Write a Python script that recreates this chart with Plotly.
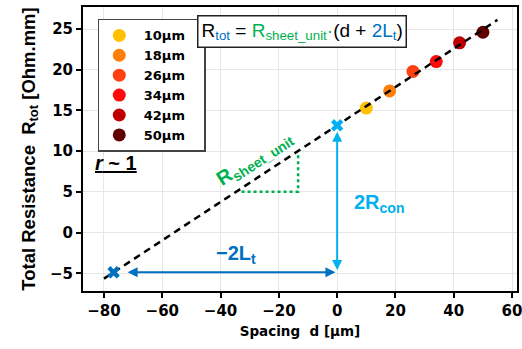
import plotly.graph_objects as go

# ---- data ----
spacing = [10, 18, 26, 34, 42, 50]
r_tot = [15.3, 17.4, 19.8, 21.0, 23.3, 24.6]
spacing_labels = ["10μm", "18μm", "26μm", "34μm", "42μm", "50μm"]
point_colors = ["#FFC000", "#FF7F0A", "#FF4010", "#FF0A0A", "#C00000", "#600000"]

two_r_con = 13.18          # intercept at d = 0
neg_two_lt = -76.7         # extrapolated position marked on the left
y_at_neg_two_lt = -4.86
fit_d = [-80, 55]

x_ticks = [-80, -60, -40, -20, 0, 20, 40, 60]
y_ticks = [-5, 0, 5, 10, 15, 20, 25]

slope = (two_r_con - y_at_neg_two_lt) / (0 - neg_two_lt)
fit_y = [two_r_con + slope * d for d in fit_d]

# slope triangle corners
tri_d = [-32.8, -13.4, -13.4]
tri_y = [5.03, 5.03, 9.75]

fig = go.Figure()

for d, r, lab, c in zip(spacing, r_tot, spacing_labels, point_colors):
    fig.add_trace(go.Scatter(x=[d], y=[r], mode="markers", name="\u00a0" + lab + "\u00a0\u00a0\u00a0",
                             marker=dict(size=13, color=c, line=dict(width=0))))

fig.add_trace(go.Scatter(x=tri_d, y=tri_y, mode="lines", showlegend=False,
                         line=dict(color="#00B050", width=2.5, dash="dot")))

fig.add_trace(go.Scatter(x=fit_d, y=fit_y, mode="lines", showlegend=False,
                         line=dict(color="black", width=2.5, dash="7px,5px")))

fig.add_trace(go.Scatter(x=[0], y=[two_r_con], mode="markers", showlegend=False,
                         marker=dict(symbol="x", size=11, color="#00B0F0", line=dict(width=0))))
fig.add_trace(go.Scatter(x=[neg_two_lt], y=[y_at_neg_two_lt], mode="markers", showlegend=False,
                         marker=dict(symbol="x", size=11, color="#0070C0", line=dict(width=0))))

# arrows
fig.add_annotation(x=0, y=two_r_con - 0.8, ax=0, ay=y_at_neg_two_lt + 0.1, xref="x", yref="y",
                   axref="x", ayref="y", showarrow=True, arrowhead=2, startarrowhead=2,
                   arrowside="end+start", arrowsize=1, arrowwidth=2, arrowcolor="#00B0F0", text="")
fig.add_annotation(x=-0.6, y=y_at_neg_two_lt, ax=neg_two_lt + 4.3, ay=y_at_neg_two_lt, xref="x", yref="y",
                   axref="x", ayref="y", showarrow=True, arrowhead=2, startarrowhead=2,
                   arrowside="end+start", arrowsize=1, arrowwidth=2, arrowcolor="#0070C0", text="")

arial = "Liberation Sans, Arial"
fig.add_annotation(x=-34.8, y=-2.7, xref="x", yref="y", showarrow=False,
                   text="<b>−2L<sub>t</sub></b>", font=dict(family=arial, size=20, color="#0070C0"))
fig.add_annotation(x=14.4, y=3.6, xref="x", yref="y", showarrow=False,
                   text="<b>2R<sub>con</sub></b>", font=dict(family=arial, size=20, color="#00B0F0"))
fig.add_annotation(x=-28.3, y=9.15, xref="x", yref="y", showarrow=False, textangle=-33,
                   text="<b>R<sub>sheet_unit</sub></b>", font=dict(family=arial, size=20, color="#00B050"))
fig.add_annotation(x=-76, y=8.55, xref="x", yref="y", showarrow=False,
                   text="<b><i>r</i> ~ 1</b>", font=dict(family=arial, size=20, color="black", lineposition="under"))
fig.add_annotation(x=-11.9, y=24.7, xref="x", yref="y", showarrow=False,
                   text="R<sub><span style='color:#0070C0'>tot</span></sub> = "
                        "<span style='color:#00B050'>R<sub>sheet_unit</sub>·</span>(d + "
                        "<span style='color:#0070C0'>2L<sub>t</sub></span>)",
                   font=dict(family=arial, size=19, color="black"),
                   bordercolor="#222", borderwidth=1.5, borderpad=3, bgcolor="white")

tickfont = dict(family="DejaVu Sans", size=15, color="black", weight="bold")
axis_common = dict(showline=True, mirror=True, linecolor="black", linewidth=2,
                   ticks="outside", ticklen=5, tickwidth=2, tickcolor="black",
                   showgrid=True, gridcolor="#E6E6E6", gridwidth=1, zeroline=False,
                   tickfont=tickfont, automargin=False, ticklabeloverflow="allow")

fig.update_layout(
    width=522, height=349,
    margin=dict(l=83, r=5, t=7, b=58),
    plot_bgcolor="white", paper_bgcolor="white",
    xaxis=dict(range=[-87.2, 61.7], tickvals=x_ticks,
               title=dict(text="Spacing\u00a0 d [μm]", standoff=8,
                          font=dict(family="DejaVu Sans", size=13.5, color="black", weight="bold")),
               **axis_common),
    yaxis=dict(range=[-7.15, 27.7], tickvals=y_ticks,
               title=dict(text="Total Resistance\u00a0 R<sub>tot</sub> [Ohm.mm]", standoff=10,
                          font=dict(family=arial, size=18.5, color="black", weight="bold")),
               **axis_common),
    legend=dict(x=0.034, y=0.958, xanchor="left", yanchor="top",
                bgcolor="white", bordercolor="#444", borderwidth=1.5,
                font=dict(family="DejaVu Sans", size=13, color="black", weight="bold")),
)

fig.write_html("out.html", config={"displayModeBar": False},
               post_script="document.body.style.margin='0';document.body.style.overflow='hidden';")
